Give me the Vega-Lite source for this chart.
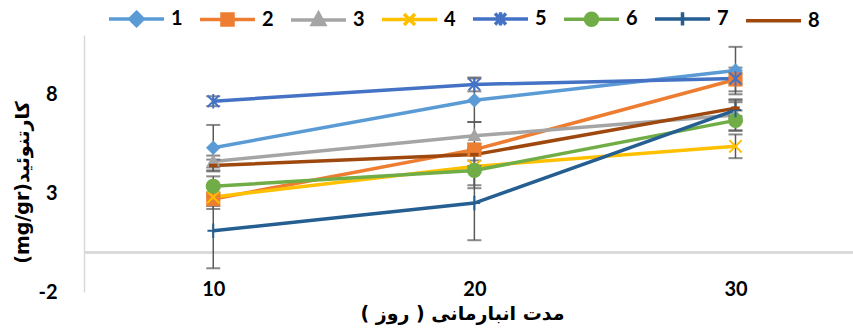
{
  "$schema": "https://vega.github.io/schema/vega-lite/v6.json",
  "width": 769,
  "height": 257,
  "autosize": {"type": "none"},
  "padding": {"left": 84, "top": 35, "right": 0, "bottom": 36},
  "background": "white",
  "config": {"view": {"stroke": null}, "font": "Lato"},
  "data": {"values": [
    {"series": 1, "day": 10, "value": 5.3, "err": 1.15},
    {"series": 1, "day": 20, "value": 7.7, "err": 1.1},
    {"series": 1, "day": 30, "value": 9.2, "err": 1.2},
    {"series": 2, "day": 10, "value": 2.7, "err": 0.35},
    {"series": 2, "day": 20, "value": 5.2, "err": 0.3},
    {"series": 2, "day": 30, "value": 8.75, "err": 0.6},
    {"series": 3, "day": 10, "value": 4.6, "err": 0.3},
    {"series": 3, "day": 20, "value": 5.9, "err": 0.7},
    {"series": 3, "day": 30, "value": 6.95, "err": 0.8},
    {"series": 4, "day": 10, "value": 2.8, "err": 0.6},
    {"series": 4, "day": 20, "value": 4.35, "err": 0.95},
    {"series": 4, "day": 30, "value": 5.37, "err": 0.6},
    {"series": 5, "day": 10, "value": 7.65, "err": 0.25},
    {"series": 5, "day": 20, "value": 8.5, "err": 0.35},
    {"series": 5, "day": 30, "value": 8.8, "err": 0.3},
    {"series": 6, "day": 10, "value": 3.35, "err": 0.5},
    {"series": 6, "day": 20, "value": 4.15, "err": 0.9},
    {"series": 6, "day": 30, "value": 6.68, "err": 0.5},
    {"series": 7, "day": 10, "value": 1.1, "err": 1.9},
    {"series": 7, "day": 20, "value": 2.5, "err": 1.88},
    {"series": 7, "day": 30, "value": 7.2, "err": 0.4},
    {"series": 8, "day": 10, "value": 4.4, "err": 0.3},
    {"series": 8, "day": 20, "value": 4.95, "err": 0.3},
    {"series": 8, "day": 30, "value": 7.3, "err": 0.4}
  ]},
  "encoding": {
    "x": {"field": "day", "type": "quantitative", "scale": {"domain": [5.05, 34.5], "nice": false, "zero": false},
      "axis": {"values": [10, 20, 30], "title": "مدت انبارمانی ( روز )\u200F", "domain": false, "ticks": false, "grid": false,
        "labelFont": "Lato", "labelFontSize": 20, "labelFontWeight": "bold", "labelColor": "black", "labelPadding": 0, "offset": -13, "labelFlush": false,
        "titleFont": "DejaVu Sans", "titleFontSize": 19, "titleFontWeight": "bold", "titleColor": "black", "titlePadding": 5, "titleX": 378}},
    "y": {"field": "value", "type": "quantitative", "scale": {"domain": [-2, 11], "nice": false, "zero": false},
      "axis": {"values": [-2, 3, 8], "labelExpr": "'' + datum.value", "domain": true, "domainColor": "#d9d9d9", "domainWidth": 1.5, "ticks": false, "grid": false,
        "labelFont": "Lato", "labelFontSize": 20, "labelFontWeight": "bold", "labelColor": "black", "labelPadding": 27,
        "title": "(mg/gr)کارتنوئید", "titleFont": "DejaVu Sans", "titleFontSize": 19, "titleFontWeight": "bold", "titleColor": "black",
        "titleX": -62, "titleY": 147, "titleBaseline": "middle", "titleAlign": "center", "titleAngle": -90}}
  },
  "layer": [
    {
      "mark": {"type": "rule", "color": "#d9d9d9", "strokeWidth": 1.5},
      "encoding": {
        "x": {"datum": 5.05, "type": "quantitative"},
        "x2": {"datum": 34.5},
        "y": {"datum": 0, "type": "quantitative"}
      }
    },
    {
      "mark": {"type": "line", "strokeWidth": 3.5},
      "encoding": {
        "color": {"field": "series", "type": "nominal",
          "scale": {"domain": [1, 2, 3, 4, 5, 6, 7, 8], "range": ["#5B9BD5", "#ED7D31", "#A5A5A5", "#FFC000", "#4472C4", "#70AD47", "#255E91", "#9E480E"]},
          "legend": {"orient": "none", "legendX": 23, "legendY": -46, "direction": "horizontal", "columns": 8, "title": null,
            "symbolSize": 3025, "symbolStrokeWidth": 3.5, "labelFont": "Lato", "labelFontSize": 20, "labelFontWeight": "bold", "labelColor": "black",
            "labelOffset": 5, "columnPadding": 10,
            "encode": {"symbols": {"update": {
              "shape": {"signal": "['M-1,0H1M0,-0.24L0.24,0L0,0.24L-0.24,0Z','M-1,0H1M-0.2,-0.2H0.2V0.2H-0.2Z','M-1,0H1M0,-0.24L0.22,0.16H-0.22Z','M-1,0H1M-0.2,-0.2L0.2,0.2M-0.2,0.2L0.2,-0.2','M-1,0H1M-0.2,-0.2L0.2,0.2M-0.2,0.2L0.2,-0.2M0,-0.24V0.24','M-1,0H1M0.22,0C0.22,0.12,0.12,0.22,0,0.22C-0.12,0.22,-0.22,0.12,-0.22,0C-0.22,-0.12,-0.12,-0.22,0,-0.22C0.12,-0.22,0.22,-0.12,0.22,0Z','M-1,0H1M0,-0.24V0.24','M-1,0H1M-0.15,0H0.15'][datum.value - 1]"},
              "fill": {"scale": "color", "field": "value"},
              "stroke": {"scale": "color", "field": "value"},
              "strokeWidth": {"value": 3.5},
              "opacity": {"value": 1}
            }}}}
        }
      }
    },
    {
      "mark": {"type": "errorbar", "color": "#595959", "thickness": 1.5, "ticks": {"size": 14, "thickness": 2, "color": "#595959"}},
      "encoding": {"yError": {"field": "err"}}
    },
    {"transform": [{"filter": "datum.series == 1"}], "mark": {"type": "point", "shape": "diamond", "filled": true, "size": 210, "color": "#5B9BD5", "opacity": 1}},
    {"transform": [{"filter": "datum.series == 2"}], "mark": {"type": "point", "shape": "square", "filled": true, "size": 200, "color": "#ED7D31", "opacity": 1}},
    {"transform": [{"filter": "datum.series == 3"}], "mark": {"type": "point", "shape": "M0,-1.05L0.95,0.7H-0.95Z", "filled": true, "size": 210, "color": "#A5A5A5", "opacity": 1}},
    {"transform": [{"filter": "datum.series == 4"}], "mark": {"type": "point", "shape": "M-0.85,-0.85L0.85,0.85M-0.85,0.85L0.85,-0.85", "filled": false, "size": 210, "strokeWidth": 2, "color": "#FFC000", "opacity": 1}},
    {"transform": [{"filter": "datum.series == 5"}], "mark": {"type": "point", "shape": "M-0.8,-0.8L0.8,0.8M-0.8,0.8L0.8,-0.8M0,-1V1", "filled": false, "size": 210, "strokeWidth": 2, "color": "#4472C4", "opacity": 1}},
    {"transform": [{"filter": "datum.series == 6"}], "mark": {"type": "point", "shape": "circle", "filled": true, "size": 230, "color": "#70AD47", "opacity": 1}},
    {"transform": [{"filter": "datum.series == 7"}], "mark": {"type": "point", "shape": "M-0.8,0H0.8M0,-1V1", "filled": false, "size": 210, "strokeWidth": 2, "color": "#255E91", "opacity": 1}},
    {"transform": [{"filter": "datum.series == 8"}], "mark": {"type": "point", "shape": "M-0.6,0H0.6", "filled": false, "size": 200, "strokeWidth": 3.5, "color": "#9E480E", "opacity": 1}}
  ]
}
